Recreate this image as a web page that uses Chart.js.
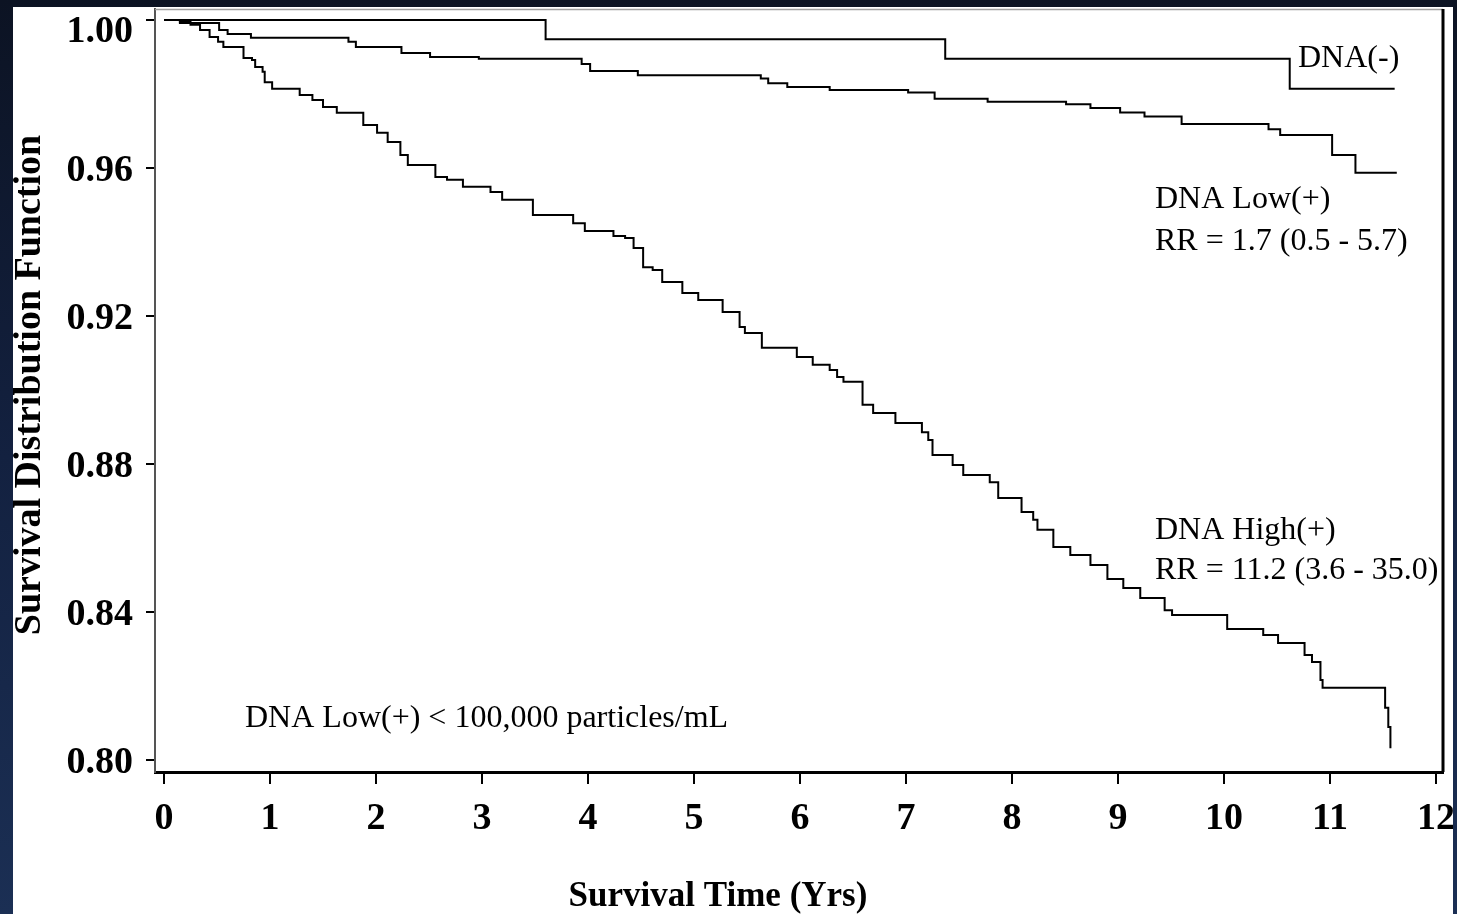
<!DOCTYPE html>
<html>
<head>
<meta charset="utf-8">
<script src="https://cdn.jsdelivr.net/npm/chart.js@4.4.1/dist/chart.umd.min.js"></script>
<style>
  html, body {
    margin: 0; padding: 0; width: 1457px; height: 914px; overflow: hidden;
    background: linear-gradient(180deg, #0c1323 0%, #132140 50%, #1b2f54 100%);
  }
  #panel { position: absolute; left: 13px; top: 7px; width: 1440px; height: 907px; background: #fff; }
  #wrap { position: absolute; left: 0; top: 0; width: 1457px; height: 914px; }
</style>
</head>
<body>
<div id="panel"></div>
<div id="wrap"><canvas id="survivalChart"></canvas></div>
<script>
// Kaplan-Meier survival by HIV DNA group (years, survival probability)
const negTime = [0, 3.60, 7.37, 10.62, 11.61];
const negSurv = [1.0, 0.9948, 0.9895, 0.9814, 0.9814];

const lowTime = [0, 0.15, 0.52, 0.60, 0.82, 1.74, 1.81, 2.24, 2.51, 2.97, 3.94, 4.02, 4.47, 5.63, 5.70,
                 5.88, 6.28, 7.02, 7.27, 7.77, 8.51, 8.74, 9.02, 9.25, 9.60, 10.42, 10.53, 11.02, 11.24, 11.63];
const lowSurv = [1.0, 0.9992, 0.9973, 0.9962, 0.9952, 0.9941, 0.9927, 0.9911, 0.9900, 0.9895, 0.9881, 0.9862, 0.9851, 0.9842, 0.9829,
                 0.9819, 0.9811, 0.9804, 0.9787, 0.9779, 0.9772, 0.9762, 0.9750, 0.9739, 0.9719, 0.9705, 0.9689, 0.9635, 0.9587, 0.9587];

const highTime = [0, 0.15, 0.25, 0.34, 0.43, 0.51, 0.56, 0.75, 0.83, 0.86, 0.93, 0.95, 1.02, 1.28, 1.40, 1.50, 1.63, 1.88, 2.01, 2.11,
                  2.23, 2.30, 2.56, 2.67, 2.82, 3.08, 3.19, 3.48, 3.86, 3.97, 4.24, 4.35, 4.43, 4.52, 4.61, 4.70, 4.89, 5.04, 5.27, 5.43,
                  5.48, 5.64, 5.97, 6.12, 6.28, 6.35, 6.41, 6.59, 6.69, 6.90, 7.15, 7.21, 7.25, 7.44, 7.54, 7.79, 7.87, 8.09, 8.20, 8.24,
                  8.39, 8.55, 8.74, 8.90, 9.05, 9.21, 9.44, 9.51, 10.03, 10.37, 10.51, 10.76, 10.83, 10.91, 10.93, 11.52, 11.55, 11.57];
const highSurv = [1.0, 0.9995, 0.9987, 0.9973, 0.9954, 0.9941, 0.9927, 0.9897, 0.9892, 0.9873, 0.9860, 0.9832, 0.9814, 0.9797, 0.9784, 0.9765, 0.9749, 0.9716, 0.9695, 0.9670,
                  0.9635, 0.9608, 0.9576, 0.9568, 0.9549, 0.9535, 0.9514, 0.9473, 0.9451, 0.9430, 0.9416, 0.9411, 0.9384, 0.9332, 0.9324, 0.9292, 0.9262, 0.9243, 0.9211, 0.9170,
                  0.9154, 0.9114, 0.9089, 0.9068, 0.9054, 0.9035, 0.9022, 0.8960, 0.8938, 0.8911, 0.8886, 0.8865, 0.8824, 0.8797, 0.8770, 0.8751, 0.8708, 0.8670, 0.8649, 0.8622,
                  0.8576, 0.8554, 0.8527, 0.8489, 0.8465, 0.8438, 0.8405, 0.8392, 0.8354, 0.8338, 0.8316, 0.8284, 0.8265, 0.8216, 0.8195, 0.8141, 0.8089, 0.8032];

const xTickValues = [0, 1, 2, 3, 4, 5, 6, 7, 8, 9, 10, 11, 12];
const yTickValues = [0.80, 0.84, 0.88, 0.92, 0.96, 1.00];

const SERIF = '"Liberation Serif", "Times New Roman", serif';
const TICK_FONT = { family: SERIF, size: 38, weight: 'bold' };
const Y_TOP = yTickValues[yTickValues.length - 1];

const toPoints = (t, s) => t.map((x, i) => ({ x: x, y: s[i] }));

function curve(label, t, s) {
    return {
        label: label,
        data: toPoints(t, s),
        borderColor: '#000',
        borderWidth: 2,
        pointRadius: 0,
        stepped: true,
        fill: false
    };
}

// frame, axis titles and group notes
const frameAndNotes = {
    id: 'frameAndNotes',
    beforeDraw(chart) {
        const ctx = chart.ctx;
        ctx.save();
        ctx.beginPath();
        ctx.rect(13, 7, 1440, 907);
        ctx.clip();
    },
    afterDraw(chart) {
        const { ctx, chartArea: a } = chart;
        const yScale = chart.scales.y;

        ctx.strokeStyle = '#a0a0a0';
        ctx.lineWidth = 1.5;
        ctx.beginPath();
        ctx.moveTo(a.left, a.top + 0.5);
        ctx.lineTo(a.right, a.top + 0.5);
        ctx.stroke();

        ctx.strokeStyle = '#000';
        ctx.lineWidth = 3;
        ctx.beginPath();
        ctx.moveTo(a.right, a.top);
        ctx.lineTo(a.right, a.bottom);
        ctx.stroke();

        ctx.fillStyle = '#000';

        // top y label sits a bit below its tick so it stays inside the panel
        ctx.font = 'bold 38px ' + SERIF;
        ctx.textAlign = 'right';
        ctx.textBaseline = 'middle';
        ctx.fillText(Y_TOP.toFixed(2), a.left - 22, yScale.getPixelForValue(Y_TOP) + 12);

        ctx.textBaseline = 'alphabetic';

        // axis titles
        ctx.font = 'bold 35px ' + SERIF;
        ctx.textAlign = 'center';
        ctx.fillText('Survival Time (Yrs)', 718, 906);

        ctx.save();
        ctx.translate(40, 385);
        ctx.rotate(-Math.PI / 2);
        ctx.font = 'bold 38px ' + SERIF;
        ctx.fillText('Survival Distribution Function', 0, 0);
        ctx.restore();

        // group notes
        ctx.font = '32px ' + SERIF;
        ctx.textAlign = 'left';
        ctx.fillText('DNA(-)', 1298, 67);
        ctx.fillText('DNA Low(+)', 1155, 208);
        ctx.fillText('RR = 1.7 (0.5 - 5.7)', 1155, 250);
        ctx.fillText('DNA High(+)', 1155, 539);
        ctx.fillText('RR = 11.2 (3.6 - 35.0)', 1155, 579);
        ctx.fillText('DNA Low(+) < 100,000 particles/mL', 245, 727);

        ctx.restore();
    }
};

const zeroPad = (scale) => {
    scale.paddingLeft = 0;
    scale.paddingRight = 0;
    scale.paddingTop = 0;
    scale.paddingBottom = 0;
};

new Chart(document.getElementById('survivalChart'), {
    type: 'line',
    data: {
        datasets: [
            curve('DNA(-)', negTime, negSurv),
            curve('DNA Low(+)', lowTime, lowSurv),
            curve('DNA High(+)', highTime, highSurv)
        ]
    },
    options: {
        responsive: true,
        maintainAspectRatio: false,
        animation: false,
        layout: { padding: { top: 9, right: 14, left: 0, bottom: 0 } },
        plugins: {
            legend: { display: false },
            tooltip: { enabled: false }
        },
        scales: {
            x: {
                type: 'linear',
                min: -0.085,
                max: 12.066,
                afterBuildTicks: (scale) => { scale.ticks = xTickValues.map(v => ({ value: v })); },
                afterFit: (scale) => { scale.height = 142; zeroPad(scale); },
                border: { display: true, color: '#000', width: 3 },
                grid: { drawOnChartArea: false, drawTicks: true, tickLength: 12, color: '#000', lineWidth: 2 },
                ticks: {
                    padding: 12,
                    maxRotation: 0,
                    autoSkip: false,
                    color: '#000',
                    font: TICK_FONT,
                    callback: (v) => String(v)
                }
            },
            y: {
                type: 'linear',
                min: 0.796757,
                max: 1.002973,
                afterBuildTicks: (scale) => { scale.ticks = yTickValues.map(v => ({ value: v })); },
                afterFit: (scale) => { scale.width = 155; zeroPad(scale); },
                border: { display: true, color: '#555', width: 2 },
                grid: { drawOnChartArea: false, drawTicks: true, tickLength: 9, color: '#000', lineWidth: 2 },
                ticks: {
                    padding: 13,
                    labelOffset: 3,
                    autoSkip: false,
                    color: '#000',
                    font: TICK_FONT,
                    // the top label is drawn by the plugin
                    callback: (v) => (Math.abs(v - Y_TOP) < 1e-9 ? '' : v.toFixed(2))
                }
            }
        }
    },
    plugins: [frameAndNotes]
});
</script>
</body>
</html>
